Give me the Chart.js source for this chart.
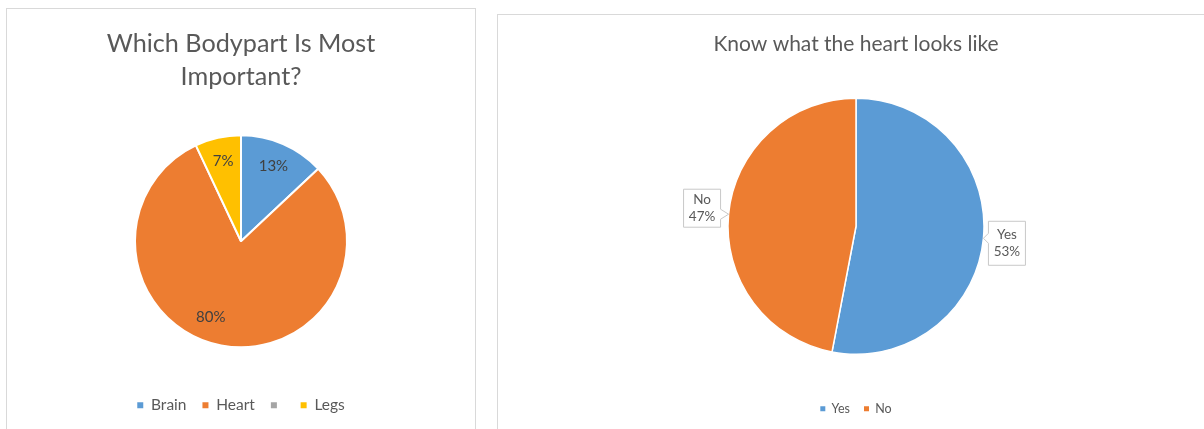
<!DOCTYPE html>
<html>
<head>
<meta charset="utf-8">
<title>Heart survey</title>
<script src="https://cdn.jsdelivr.net/npm/chart.js@4.4.1/dist/chart.umd.min.js"></script>
<style>
  html, body { margin: 0; padding: 0; background: #fff; width: 1204px; height: 429px; overflow: hidden; }
  #sheet { position: absolute; left: 0; top: 0; width: 1204px; height: 429px; filter: blur(0.45px); }
  .panel { position: absolute; border: 1px solid #d9d9d9; box-sizing: border-box; background: #fff; }
  #panelA { left: 6px; top: 8px; width: 470px; height: 440px; }
  #panelB { left: 497px; top: 14px; width: 720px; height: 440px; }
  canvas { position: absolute; }
  #partChart { left: 6px; top: 8px; }
  #heartChart { left: 497px; top: 14px; }
</style>
</head>
<body>
<div id="sheet">
<div class="panel" id="panelA"></div>
<div class="panel" id="panelB"></div>
<canvas id="partChart" width="470" height="421"></canvas>
<canvas id="heartChart" width="707" height="415"></canvas>
</div>
<script>
// Survey answers
const partLabels = ['Brain', 'Heart', '', 'Legs'];
const partShares = [13, 80, 0, 7];
const partColors = ['#5B9BD5', '#ED7D31', '#A5A5A5', '#FFC000'];

const heartLabels = ['Yes', 'No'];
const heartShares = [53, 47];
const heartColors = ['#5B9BD5', '#ED7D31'];

const FONT = 'Lato, "Open Sans", sans-serif';

// Legend entries without the white slice outline
function plainLegend(chart) {
  return Chart.overrides.pie.plugins.legend.labels.generateLabels(chart)
    .map(item => Object.assign(item, { lineWidth: 0 }));
}

// Percentage labels: inside the slice, or in a callout box at the rim
const sliceLabels = {
  id: 'sliceLabels',
  afterDatasetsDraw(chart, args, opts) {
    const ctx = chart.ctx;
    const meta = chart.getDatasetMeta(0);
    const values = chart.data.datasets[0].data;
    const names = chart.data.labels;
    const total = values.reduce((a, b) => a + b, 0);
    ctx.save();
    meta.data.forEach((arc, i) => {
      const v = values[i];
      if (!v) return;
      const p = arc.getProps(['x', 'y', 'startAngle', 'endAngle', 'outerRadius'], true);
      const pct = Math.round(v / total * 100) + '%';
      const turn = ((opts.turn && opts.turn[i]) || 0) * Math.PI / 180;
      const mid = (p.startAngle + p.endAngle) / 2 + turn;
      ctx.font = opts.font;
      ctx.textAlign = 'center';
      ctx.textBaseline = 'middle';
      if (opts.mode === 'inside') {
        const r = p.outerRadius * opts.ratio;
        ctx.fillStyle = opts.color;
        ctx.fillText(pct, p.x + Math.cos(mid) * r, p.y + Math.sin(mid) * r);
      } else {
        const ax = p.x + Math.cos(mid) * p.outerRadius;
        const ay = p.y + Math.sin(mid) * p.outerRadius;
        const right = ax >= p.x;
        const w = opts.boxW, h = right ? opts.boxHRight : opts.boxHLeft, n = opts.notch;
        const bx = right ? ax + opts.gapRight : ax - opts.gapLeft - w;
        const by = ay - (right ? opts.riseRight : opts.riseLeft);
        ctx.beginPath();
        if (right) {
          ctx.moveTo(bx, by);
          ctx.lineTo(bx + w, by);
          ctx.lineTo(bx + w, by + h);
          ctx.lineTo(bx, by + h);
          ctx.lineTo(bx, ay + n);
          ctx.lineTo(ax, ay);
          ctx.lineTo(bx, ay - n);
        } else {
          ctx.moveTo(bx, by);
          ctx.lineTo(bx + w, by);
          ctx.lineTo(bx + w, ay - n);
          ctx.lineTo(ax, ay);
          ctx.lineTo(bx + w, ay + n);
          ctx.lineTo(bx + w, by + h);
          ctx.lineTo(bx, by + h);
        }
        ctx.closePath();
        ctx.fillStyle = '#ffffff';
        ctx.fill();
        ctx.lineWidth = 1;
        ctx.strokeStyle = '#c8c8c8';
        ctx.stroke();
        ctx.fillStyle = opts.color;
        const cx = bx + w / 2, cy = by + h / 2;
        ctx.fillText(names[i], cx, cy - opts.lineGap / 2);
        ctx.fillText(pct, cx, cy + opts.lineGap / 2);
      }
    });
    ctx.restore();
  }
};

new Chart(document.getElementById('partChart'), {
  type: 'pie',
  data: {
    labels: partLabels,
    datasets: [{
      data: partShares,
      backgroundColor: partColors,
      borderColor: '#ffffff',
      borderWidth: 2,
      radius: 106
    }]
  },
  plugins: [sliceLabels],
  options: {
    responsive: false,
    animation: false,
    layout: { padding: { top: 0, bottom: 6, left: 0, right: 0 } },
    plugins: {
      title: {
        display: true,
        text: ['Which Bodypart Is Most', 'Important?'],
        color: '#595959',
        font: { family: FONT, size: 25.2, weight: 'normal', lineHeight: 1.31 },
        padding: { top: 19.5, bottom: 7.5 }
      },
      legend: {
        position: 'bottom',
        labels: {
          color: '#595959',
          font: { family: FONT, size: 15.5 },
          boxWidth: 6,
          boxHeight: 6,
          padding: 16,
          generateLabels: plainLegend
        }
      },
      tooltip: { enabled: false },
      sliceLabels: {
        mode: 'inside',
        ratio: 0.77,
        turn: [0, 11, 0, 0],
        font: '15px ' + FONT,
        color: '#404040'
      }
    }
  }
});

new Chart(document.getElementById('heartChart'), {
  type: 'pie',
  data: {
    labels: heartLabels,
    datasets: [{
      data: heartShares,
      backgroundColor: heartColors,
      borderColor: '#ffffff',
      borderWidth: 1.5,
      radius: 128
    }]
  },
  plugins: [sliceLabels],
  options: {
    responsive: false,
    animation: false,
    layout: { padding: { top: 0, bottom: 4, left: 11, right: 0 } },
    plugins: {
      title: {
        display: true,
        text: 'Know what the heart looks like',
        color: '#595959',
        font: { family: FONT, size: 21, weight: 'normal', lineHeight: 1.2 },
        padding: { top: 17.4, bottom: 7.4 }
      },
      legend: {
        position: 'bottom',
        labels: {
          color: '#595959',
          font: { family: FONT, size: 12.5 },
          boxWidth: 5,
          boxHeight: 5,
          padding: 14,
          generateLabels: plainLegend
        }
      },
      tooltip: { enabled: false },
      sliceLabels: {
        mode: 'callout',
        font: '13.5px ' + FONT,
        color: '#595959',
        boxW: 37,
        boxHLeft: 38,
        boxHRight: 44,
        gapLeft: 8,
        gapRight: 5,
        notch: 5,
        riseRight: 17,
        riseLeft: 25,
        lineGap: 17
      }
    }
  }
});
</script>
</body>
</html>
